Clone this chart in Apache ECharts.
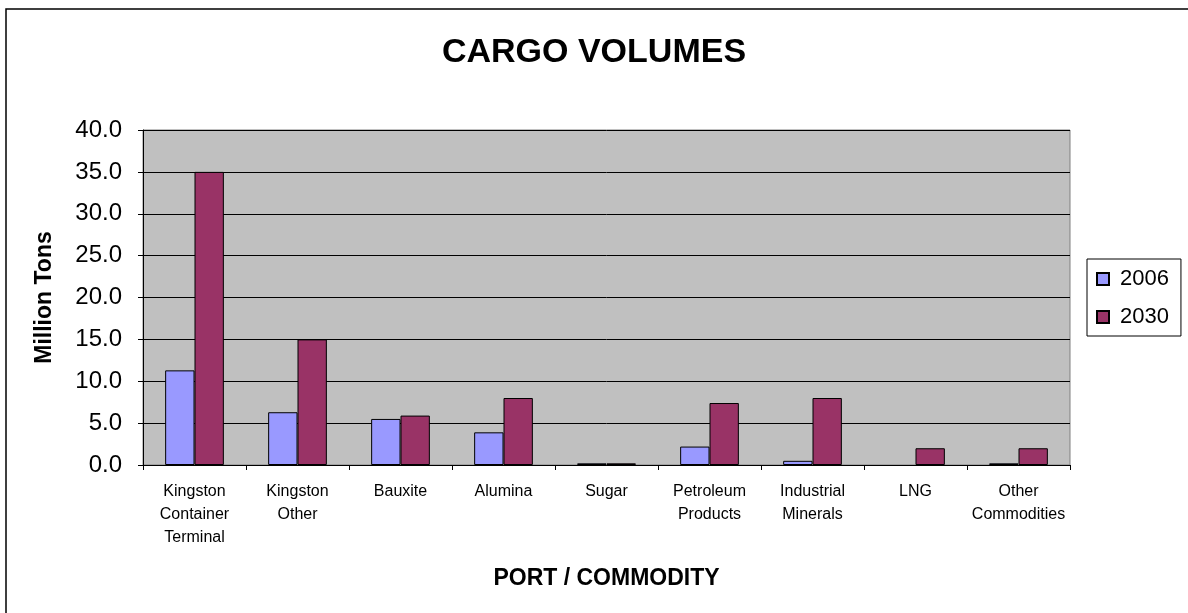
<!DOCTYPE html>
<html>
<head>
<meta charset="utf-8">
<script src="https://cdn.jsdelivr.net/npm/echarts@6/dist/echarts.min.js"></script>
<style>
html,body{margin:0;padding:0;background:#fff;}
#main{width:1188px;height:613px;}
</style>
</head>
<body>
<div id="main"></div>
<script>
const categories = ['Kingston\nContainer\nTerminal', 'Kingston\nOther', 'Bauxite', 'Alumina', 'Sugar', 'Petroleum\nProducts', 'Industrial\nMinerals', 'LNG', 'Other\nCommodities'];
const values2006 = [11.3, 6.3, 5.5, 3.9, 0.2, 2.2, 0.5, 0, 0.2];
const values2030 = [35.0, 15.0, 5.9, 8.0, 0.2, 7.4, 8.0, 2.0, 2.0];
const seriesNames = ['2006', '2030'];

// zero-valued bars are not outlined (as in the original chart)
const toItems = arr => arr.map(v => v === 0 ? {value: v, itemStyle: {borderWidth: 0}} : v);

const chart = echarts.init(document.getElementById('main'));
const font = 'Liberation Sans, Arial, sans-serif';
chart.setOption({
  animation: false,
  backgroundColor: '#fff',
  graphic: [{
    type: 'rect',
    shape: {x: 6, y: 9, width: 1200, height: 700},
    style: {fill: 'none', stroke: '#000', lineWidth: 1.5},
    silent: true, z: -1
  }],
  title: {
    text: 'CARGO VOLUMES', left: 'center', top: 31,
    textStyle: {fontFamily: font, fontWeight: 'bold', fontSize: 34, color: '#000'}
  },
  legend: {
    orient: 'vertical', left: 1087, top: 259,
    padding: [9, 12, 8, 9],
    itemGap: 16,
    itemWidth: 12, itemHeight: 12,
    borderColor: '#000', borderWidth: 1,
    backgroundColor: '#fff',
    icon: 'rect',
    textStyle: {fontFamily: font, fontSize: 22, color: '#000', padding: [0,0,0,6]},
    data: seriesNames
  },
  grid: {left: 143, right: 118, top: 130, bottom: 148, show: true, backgroundColor: '#C0C0C0', borderColor: '#808080', borderWidth: 1},
  xAxis: {
    type: 'category', data: categories,
    name: 'PORT / COMMODITY', nameLocation: 'middle', nameGap: 102,
    nameTextStyle: {fontFamily: font, fontWeight: 'bold', fontSize: 23, color: '#000'},
    axisLine: {lineStyle: {color: '#000', width: 1}},
    axisTick: {show: true, length: 5, lineStyle: {color: '#000'}},
    axisLabel: {fontFamily: font, fontSize: 16, color: '#000', lineHeight: 23, margin: 15, interval: 0}
  },
  yAxis: {
    type: 'value', min: 0, max: 40, interval: 5,
    name: 'Million Tons', nameLocation: 'middle', nameGap: 87, nameRotate: 90,
    nameTextStyle: {fontFamily: font, fontWeight: 'bold', fontSize: 23, color: '#000'},
    axisLine: {show: true, lineStyle: {color: '#000', width: 1}},
    axisTick: {show: true, length: 5, lineStyle: {color: '#000'}},
    axisLabel: {fontFamily: font, fontSize: 24, color: '#000', margin: 21, formatter: v => v.toFixed(1)},
    splitLine: {show: true, lineStyle: {color: '#000', width: 1}}
  },
  series: [
    {name: seriesNames[0], type: 'bar', data: toItems(values2006), barGap: '0%', barCategoryGap: '43%',
     itemStyle: {color: '#9999FF', borderColor: '#000', borderWidth: 1}},
    {name: seriesNames[1], type: 'bar', data: toItems(values2030), barGap: '0%', barCategoryGap: '43%',
     itemStyle: {color: '#993366', borderColor: '#000', borderWidth: 1}}
  ]
});
</script>
</body>
</html>
